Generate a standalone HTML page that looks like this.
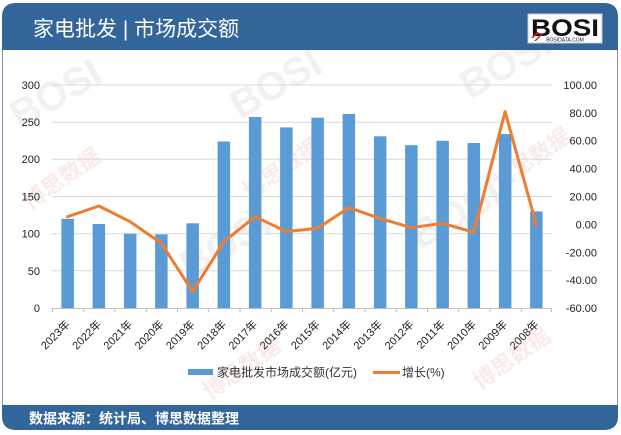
<!DOCTYPE html>
<html><head><meta charset="utf-8"><style>
html,body{margin:0;padding:0;background:#fff;}
svg{display:block;}
text{font-family:"Liberation Sans","Noto Sans CJK SC",sans-serif;}
</style></head><body>
<svg width="621" height="435" viewBox="0 0 621 435" xmlns="http://www.w3.org/2000/svg">
<rect x="2.5" y="3.5" width="615" height="426" rx="14" fill="#fff" stroke="#7f93ad" stroke-width="1"/>
<path d="M2,50 L2,17 Q2,3 16,3 L604,3 Q618,3 618,17 L618,50 Z" fill="#32659a"/>
<path d="M2,405 L618,405 L618,416 Q618,430 604,430 L16,430 Q2,430 2,416 Z" fill="#32659a"/>
<g opacity="0.08" font-weight="bold">
<text x="240" y="120" font-size="40" fill="#555" transform="rotate(-30 240 120)">BOSI</text>
<text x="470" y="100" font-size="40" fill="#555" transform="rotate(-30 470 100)">BOSI</text>
<text x="420" y="250" font-size="40" fill="#555" transform="rotate(-30 420 250)">BOSI</text>
<text x="190" y="280" font-size="40" fill="#555" transform="rotate(-30 190 280)">BOSI</text>
<text x="20" y="130" font-size="40" fill="#555" transform="rotate(-30 20 130)">BOSI</text>
</g>
<g opacity="0.11" font-size="22" fill="#d04040" font-weight="bold">
<text x="30" y="210" transform="rotate(-35 30 210)">博思数据</text>
<text x="250" y="200" transform="rotate(-35 250 200)">博思数据</text>
<text x="500" y="190" transform="rotate(-35 500 190)">博思数据</text>
<text x="210" y="400" transform="rotate(-35 210 400)">博思数据</text>
<text x="480" y="390" transform="rotate(-35 480 390)">博思数据</text>
</g>
<text x="33" y="36" font-size="21" fill="#fff">家电批发 | 市场成交额</text>
<rect x="528" y="14" width="74" height="29" fill="#fff" stroke="#ccc"/>
<text x="531" y="36" font-size="24" font-weight="bold" fill="#111" textLength="68" lengthAdjust="spacingAndGlyphs">BOSI</text>
<text x="565" y="41.5" font-size="5" fill="#111" text-anchor="middle">BOSIDATA.COM</text>
<path d="M531,38 L537,32 L539,32 L533,38 Z M534,41 L541,34 L543,34 L536,41 Z" fill="#d02020"/>
<g stroke="#d9d9d9" stroke-width="1">
<line x1="52" y1="85" x2="552" y2="85"/>
<line x1="52" y1="122.2" x2="552" y2="122.2"/>
<line x1="52" y1="159.3" x2="552" y2="159.3"/>
<line x1="52" y1="196.5" x2="552" y2="196.5"/>
<line x1="52" y1="233.7" x2="552" y2="233.7"/>
<line x1="52" y1="270.8" x2="552" y2="270.8"/>
</g>
<g fill="#5b9bd5">
<rect x="61.4" y="218.8" width="12.5" height="89.2"/>
<rect x="92.6" y="224.0" width="12.5" height="84.0"/>
<rect x="123.9" y="233.7" width="12.5" height="74.3"/>
<rect x="155.1" y="234.4" width="12.5" height="73.6"/>
<rect x="186.4" y="223.3" width="12.5" height="84.7"/>
<rect x="217.6" y="141.5" width="12.5" height="166.5"/>
<rect x="248.9" y="117.0" width="12.5" height="191.0"/>
<rect x="280.1" y="127.4" width="12.5" height="180.6"/>
<rect x="311.4" y="117.7" width="12.5" height="190.3"/>
<rect x="342.6" y="114.0" width="12.5" height="194.0"/>
<rect x="373.9" y="136.3" width="12.5" height="171.7"/>
<rect x="405.1" y="145.2" width="12.5" height="162.8"/>
<rect x="436.4" y="140.8" width="12.5" height="167.2"/>
<rect x="467.6" y="143.0" width="12.5" height="165.0"/>
<rect x="498.9" y="134.1" width="12.5" height="173.9"/>
<rect x="530.1" y="211.4" width="12.5" height="96.6"/>
</g>
<g stroke="#bfbfbf" stroke-width="1">
<line x1="52" y1="308.5" x2="552" y2="308.5"/>
<path d="M52.5,308 v4 M83.75,308 v4 M115,308 v4 M146.25,308 v4 M177.5,308 v4 M208.75,308 v4 M240,308 v4 M271.25,308 v4 M302.5,308 v4 M333.75,308 v4 M365,308 v4 M396.25,308 v4 M427.5,308 v4 M458.75,308 v4 M490,308 v4 M521.25,308 v4 M551.5,308 v4"/>
</g>
<polyline fill="none" stroke="#ed7d31" stroke-width="3" stroke-linejoin="round" stroke-linecap="round" points="67.6,216.7 98.9,206.0 130.1,221.7 161.4,243.3 192.6,291.7 223.9,241.7 255.1,216.7 286.4,231.6 317.6,228.3 348.9,207.7 380.1,218.4 411.4,227.7 442.6,223.3 473.9,232.3 505.1,111.6 536.4,225.1"/>
<g font-size="11" fill="#222" text-anchor="end">
<text x="40" y="89">300</text>
<text x="40" y="126">250</text>
<text x="40" y="163">200</text>
<text x="40" y="200.5">150</text>
<text x="40" y="237.5">100</text>
<text x="40" y="275">50</text>
<text x="40" y="312">0</text>
</g>
<g font-size="11" fill="#222" text-anchor="end">
<text x="597" y="89">100.00</text>
<text x="597" y="117">80.00</text>
<text x="597" y="144.7">60.00</text>
<text x="597" y="172.6">40.00</text>
<text x="597" y="200.5">20.00</text>
<text x="597" y="228.4">0.00</text>
<text x="597" y="256.3">-20.00</text>
<text x="597" y="284.1">-40.00</text>
<text x="597" y="312">-60.00</text>
</g>
<g font-size="11" fill="#222" text-anchor="end">
<text transform="translate(70.6,325) rotate(-45)">2023年</text>
<text transform="translate(101.9,325) rotate(-45)">2022年</text>
<text transform="translate(133.1,325) rotate(-45)">2021年</text>
<text transform="translate(164.4,325) rotate(-45)">2020年</text>
<text transform="translate(195.6,325) rotate(-45)">2019年</text>
<text transform="translate(226.9,325) rotate(-45)">2018年</text>
<text transform="translate(258.1,325) rotate(-45)">2017年</text>
<text transform="translate(289.4,325) rotate(-45)">2016年</text>
<text transform="translate(320.6,325) rotate(-45)">2015年</text>
<text transform="translate(351.9,325) rotate(-45)">2014年</text>
<text transform="translate(383.1,325) rotate(-45)">2013年</text>
<text transform="translate(414.4,325) rotate(-45)">2012年</text>
<text transform="translate(445.6,325) rotate(-45)">2011年</text>
<text transform="translate(476.9,325) rotate(-45)">2010年</text>
<text transform="translate(508.1,325) rotate(-45)">2009年</text>
<text transform="translate(539.4,325) rotate(-45)">2008年</text>
</g>
<rect x="188" y="369" width="25" height="6" fill="#5b9bd5"/>
<text x="217" y="376.5" font-size="12" fill="#333">家电批发市场成交额(亿元)</text>
<line x1="373" y1="372.5" x2="400" y2="372.5" stroke="#ed7d31" stroke-width="3"/>
<text x="402" y="376.5" font-size="12" fill="#333">增长(%)</text>
<text x="29" y="423.5" font-size="14" font-weight="bold" fill="#fff">数据来源：统计局、博思数据整理</text>
</svg>
</body></html>
